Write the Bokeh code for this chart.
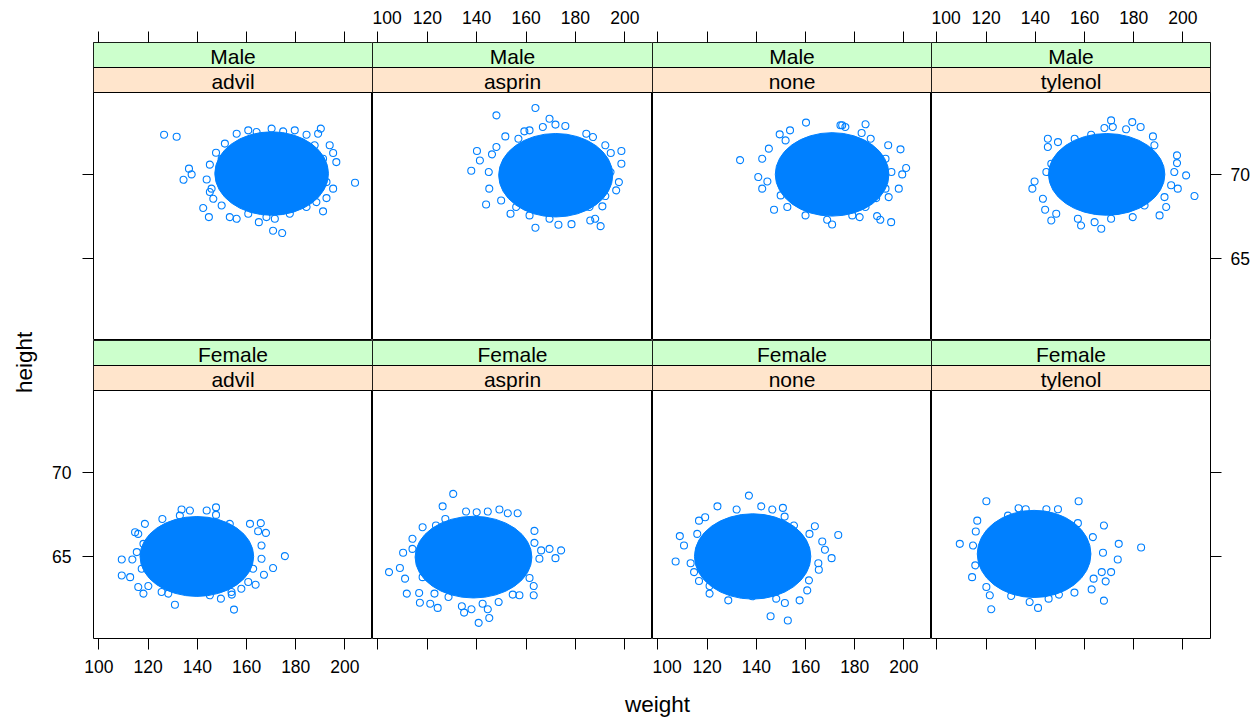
import math
from bokeh.plotting import figure
from bokeh.models import GridBox, FixedTicker, LinearAxis, Range1d, Label, Quad
from bokeh.core.properties import value
from bokeh.embed import file_html
from bokeh.resources import INLINE

# ---------------- data ----------------
sexes = ["Male", "Female"]
drugs = ["advil", "asprin", "none", "tylenol"]
weight_ticks = [100, 120, 140, 160, 180, 200]
height_ticks = [65, 70]

# dense, fully over-plotted core of each panel: centre and extent (weight, height)
core_weight = [170.2, 172.0, 170.8, 169.0, 139.8, 138.7, 138.5, 139.5]
core_height = [70.05, 69.95, 70.0, 70.0, 65.0, 64.96, 65.0, 65.15]
core_weight_span = [42, 42, 42, 43, 42, 43, 43, 42]
core_height_span = [4.6, 4.6, 4.6, 4.5, 4.4, 4.5, 4.7, 4.8]

# individually visible points around the cores
weight_male_advil = [126.5, 131.6, 136.6, 137.7, 134.4, 142.4, 144.7, 170.8, 174.5, 204.1,
                     156.0, 160.7, 164.1, 170.2, 174.9, 179.6, 184.4, 151.2, 147.6, 149.9,
                     145.1, 143.8, 145.8, 145.1, 146.5, 149.9, 153.2, 156.0, 160.7, 165.0,
                     168.1, 171.5, 177.6, 184.4, 188.4, 191.1, 192.5, 195.2, 192.5, 196.5,
                     195.2, 193.8, 191.1, 187.7, 190.2, 189.1]
height_male_advil = [72.36, 72.24, 70.34, 70.0, 69.68, 68.0, 67.46, 66.65, 66.51, 69.5,
                     72.42, 72.62, 72.52, 72.72, 72.56, 72.62, 72.36, 71.83, 71.29, 70.93,
                     70.58, 69.70, 69.15, 68.95, 68.55, 68.15, 67.46, 67.36, 67.66, 67.16,
                     67.46, 67.36, 67.66, 68.06, 68.35, 67.80, 68.59, 69.15, 69.54, 70.73,
                     71.27, 71.73, 70.93, 71.73, 72.72, 72.42]

weight_male_asprin = [163.8, 148.0, 151.6, 140.1, 141.3, 137.8, 143.8, 148.0, 146.2, 144.9,
                      145.1, 149.9, 153.7, 156.0, 161.4, 163.8, 169.5, 173.1, 178.4, 186.0,
                      188.0, 190.2, 190.9, 185.7, 192.1, 196.5, 197.6, 198.6, 198.6, 194.3,
                      192.1, 194.2, 187.1, 184.4, 175.9, 171.9, 169.5, 166.8, 161.4, 156.9,
                      159.3]
height_male_asprin = [73.95, 73.51, 72.26, 71.39, 70.83, 70.22, 68.21, 71.63, 71.19, 70.14,
                      69.15, 68.45, 67.66, 68.06, 67.56, 66.83, 67.36, 67.0, 67.04, 67.26,
                      67.36, 66.92, 68.10, 68.06, 68.71, 69.05, 69.54, 70.63, 71.39, 71.27,
                      71.73, 70.14, 72.22, 72.42, 72.88, 72.96, 73.31, 72.82, 72.62, 72.12,
                      72.56]

weight_male_none = [133.4, 145.1, 140.8, 142.4, 147.2, 149.5, 153.7, 160.2, 174.9, 184.4,
                    182.8, 186.5, 193.6, 198.6, 192.5, 200.9, 199.3, 194.9, 197.9, 192.5,
                    188.7, 193.8, 194.8, 190.4, 189.1, 182.0, 170.8, 168.8, 160.0, 152.6,
                    149.9, 144.5, 142.4, 151.9, 174.2, 176.2, 179.0, 184.4]
height_male_none = [70.85, 71.53, 69.84, 69.15, 67.90, 72.38, 72.62, 73.08, 72.92, 72.98,
                    72.46, 72.12, 71.73, 71.49, 70.93, 70.38, 70.0, 70.14, 69.15, 69.15,
                    68.59, 68.65, 67.16, 67.30, 67.52, 67.46, 67.02, 67.30, 67.56, 68.06,
                    68.75, 69.58, 70.93, 72.02, 72.92, 72.82, 67.56, 68.06]

weight_male_tylenol = [170.8, 179.4, 182.8, 176.9, 168.1, 171.5, 162.7, 156.0, 187.8, 188.4,
                       197.6, 197.6, 201.3, 204.7, 196.5, 197.9, 195.2, 192.5, 193.2, 190.5,
                       184.4, 179.6, 170.8, 166.8, 164.1, 158.6, 157.3, 146.5, 148.5, 144.0,
                       143.1, 138.8, 139.7, 144.5, 145.1, 145.1, 149.2, 153.3, 146.5]
height_male_tylenol = [73.21, 73.11, 72.82, 72.68, 72.76, 72.82, 72.36, 72.12, 72.26, 71.73,
                       71.13, 70.67, 69.94, 68.71, 70.14, 69.15, 69.35, 68.65, 68.06, 67.56,
                       68.15, 67.46, 67.36, 66.77, 67.16, 66.96, 67.36, 67.26, 67.66, 67.90,
                       68.55, 69.15, 69.58, 70.14, 71.63, 72.12, 71.92, 71.03, 70.63]

weight_female_advil = [109.3, 113.6, 109.3, 112.7, 116.0, 118.1, 130.9, 154.9, 175.6, 170.8,
                       167.1, 163.7, 161.4, 165.8, 167.9, 164.7, 166.1, 166.1, 153.2, 147.6,
                       147.6, 143.8, 137.0, 133.6, 132.9, 125.8, 118.7, 116.0, 114.7, 118.1,
                       115.4, 117.4, 120.1, 125.5, 128.2, 138.4, 145.1, 149.6, 154.0, 157.9,
                       160.7, 162.7, 153.9]
height_female_advil = [64.82, 64.82, 63.87, 63.77, 63.18, 62.79, 62.13, 61.84, 65.02, 64.31,
                       63.91, 63.32, 66.94, 66.98, 66.40, 66.50, 65.65, 64.86, 66.94, 67.92,
                       67.47, 67.73, 67.73, 67.79, 67.43, 67.23, 66.94, 66.34, 66.44, 65.75,
                       65.26, 64.27, 63.24, 62.89, 62.79, 62.89, 62.69, 62.49, 62.73, 63.08,
                       63.48, 64.27, 62.89]

weight_female_asprin = [130.5, 126.2, 104.5, 108.9, 111.0, 111.7, 116.7, 117.0, 121.2, 124.2,
                        134.0, 134.9, 137.9, 140.8, 142.4, 145.1, 144.5, 148.9, 154.6, 157.3,
                        163.1, 163.1, 161.4, 171.9, 174.2, 169.5, 166.1, 165.4, 163.4, 163.4,
                        156.6, 152.6, 149.2, 144.5, 140.0, 135.7, 127.3, 123.5, 118.1, 114.0,
                        110.2, 114.0, 118.1, 122.9, 128.6]
height_female_asprin = [68.72, 67.98, 64.07, 64.31, 63.68, 62.79, 62.83, 62.25, 62.19, 61.94,
                        62.04, 61.66, 61.86, 61.05, 62.19, 61.34, 61.86, 62.29, 62.73, 62.69,
                        62.69, 63.24, 63.72, 64.90, 65.36, 65.45, 65.36, 64.86, 65.81, 66.52,
                        67.57, 67.57, 67.79, 67.67, 67.63, 67.67, 67.23, 66.84, 66.74, 66.05,
                        65.22, 65.45, 63.77, 62.79, 62.59]

weight_female_none = [137.0, 124.2, 132.0, 142.0, 146.5, 150.8, 151.5, 116.7, 119.2, 108.9,
                      116.0, 110.6, 107.2, 113.3, 114.7, 116.7, 121.0, 121.0, 128.6, 138.4,
                      145.8, 152.8, 151.6, 148.1, 157.6, 160.7, 161.4, 165.4, 165.2, 170.6,
                      167.9, 166.8, 173.3, 163.8, 155.3, 161.6]
height_female_none = [68.62, 67.98, 67.79, 67.98, 67.79, 67.89, 67.37, 67.13, 67.33, 66.21,
                      66.34, 65.65, 64.70, 64.60, 64.07, 63.54, 63.24, 62.79, 62.39, 62.63,
                      61.44, 61.19, 62.23, 62.49, 62.39, 62.98, 63.58, 64.21, 64.60, 64.90,
                      65.40, 65.89, 66.28, 66.80, 66.84, 66.34]

weight_female_tylenol = [120.1, 157.6, 109.3, 114.7, 116.4, 115.8, 114.3, 115.6, 120.1, 122.1,
                         121.5, 130.2, 137.7, 141.1, 145.4, 149.6, 155.9, 162.9, 163.7, 167.9,
                         168.6, 170.8, 167.0, 173.5, 173.9, 167.5, 183.0, 167.9, 163.4, 157.3,
                         149.2, 144.5, 136.1, 133.2, 128.9]
height_female_tylenol = [68.28, 68.28, 65.75, 65.65, 67.13, 66.48, 63.77, 64.47, 63.18, 61.86,
                         62.69, 62.65, 62.29, 61.94, 62.49, 62.73, 62.85, 63.04, 63.68, 62.37,
                         63.52, 64.07, 64.07, 64.82, 65.75, 65.22, 65.53, 66.84, 66.15, 66.98,
                         67.81, 67.81, 67.81, 67.87, 67.43]

panel_weights = [[weight_male_advil, weight_male_asprin, weight_male_none, weight_male_tylenol],
                 [weight_female_advil, weight_female_asprin, weight_female_none, weight_female_tylenol]]
panel_heights = [[height_male_advil, height_male_asprin, height_male_none, height_male_tylenol],
                 [height_female_advil, height_female_asprin, height_female_none, height_female_tylenol]]

# ---------------- layout / style ----------------
X_START, X_END = 97.8, 211.2
Y_START, Y_PANEL_END = 60.12, 74.87
FRAME_W = [279, 280, 279, 279]
PANEL_H = 248
STRIP_H = 25
px_per_unit_y = PANEL_H / (Y_PANEL_END - Y_START)
px_per_unit_x = sum(FRAME_W) / 4 / (X_END - X_START)
Y_STRIP_MID = Y_PANEL_END + STRIP_H / px_per_unit_y
Y_END = Y_PANEL_END + 2 * STRIP_H / px_per_unit_y
FRAME_H = PANEL_H + 2 * STRIP_H

LEFT_B, RIGHT_B, TOP_B, BOTTOM_B = 55, 46, 42, 42
LABEL_W = 38
XLAB_H = 38

FONT = "Liberation Sans"
TICK_FS = "17.5px"
STRIP_FS = "21px"
LAB_FS = "22.5px"
BLUE = "#0080FF"
GREEN = "#CCFFCC"
PEACH = "#FFE5CC"
ROUND = "border_radius" in Quad.properties()


def make_axis(ticks, show_labels, standoff):
    ax = LinearAxis(ticker=FixedTicker(ticks=ticks))
    ax.axis_line_color = None
    ax.major_tick_in = 0
    ax.major_tick_out = 11
    ax.major_tick_line_color = "black"
    ax.major_tick_line_width = 1
    ax.minor_tick_line_color = None
    ax.major_label_standoff = standoff
    ax.major_label_text_font = FONT
    ax.major_label_text_font_size = TICK_FS
    ax.major_label_text_color = "black" if show_labels else None
    return ax


panels = []
for r in range(2):
    row_figs = []
    for c in range(4):
        lb = LEFT_B if c == 0 else 0
        rb = RIGHT_B if c == 3 else 0
        tb = TOP_B if r == 0 else 0
        bb = BOTTOM_B if r == 1 else 0
        p = figure(width=FRAME_W[c] + lb + rb, height=FRAME_H + tb + bb,
                   x_range=Range1d(X_START, X_END), y_range=Range1d(Y_START, Y_END),
                   output_backend="svg", toolbar_location=None,
                   x_axis_location=None, y_axis_location=None,
                   min_border_left=lb, min_border_right=rb,
                   min_border_top=tb, min_border_bottom=bb)
        p.grid.visible = False
        p.outline_line_color = "black"
        p.outline_line_width = 1
        p.background_fill_color = "white"
        p.border_fill_color = "white"

        if r == 0:
            p.add_layout(make_axis(weight_ticks, c in (1, 3), 8), "above")
        else:
            p.add_layout(make_axis(weight_ticks, c in (0, 2), 10), "below")
        if c == 0:
            p.add_layout(make_axis(height_ticks, r == 1, 11), "left")
        if c == 3:
            p.add_layout(make_axis(height_ticks, r == 0, 9), "right")

        # strips
        p.quad(left=[X_START], right=[X_END], bottom=[Y_STRIP_MID], top=[Y_END],
               fill_color=GREEN, line_color="black", line_width=1)
        p.quad(left=[X_START], right=[X_END], bottom=[Y_PANEL_END], top=[Y_STRIP_MID],
               fill_color=PEACH, line_color="black", line_width=1)
        p.text(x=[(X_START + X_END) / 2], y=[(Y_STRIP_MID + Y_END) / 2], text=[sexes[r]],
               text_font=value(FONT), text_font_size=STRIP_FS, text_color="black",
               text_align="center", text_baseline="middle", y_offset=1)
        p.text(x=[(X_START + X_END) / 2], y=[(Y_PANEL_END + Y_STRIP_MID) / 2], text=[drugs[c]],
               text_font=value(FONT), text_font_size=STRIP_FS, text_color="black",
               text_align="center", text_baseline="middle", y_offset=1)

        # over-plotted core: an ellipse, with its shoulders filled by a rounded box
        k = r * 4 + c
        ws, hs = core_weight_span[k], core_height_span[k]
        p.ellipse(x=[core_weight[k]], y=[core_height[k]],
                  width=[ws * 1.1], height=[hs * 1.08],
                  fill_color=BLUE, line_color=BLUE, line_width=1)
        if ROUND:
            bw, bh = ws * 0.92, hs * 0.86
            rad = int(round(0.45 * min(bw * px_per_unit_x, bh * px_per_unit_y)))
            p.quad(left=[core_weight[k] - bw / 2], right=[core_weight[k] + bw / 2],
                   bottom=[core_height[k] - bh / 2], top=[core_height[k] + bh / 2],
                   fill_color=BLUE, line_color=BLUE, line_width=1, border_radius=rad)
        p.scatter(x=panel_weights[r][c], y=panel_heights[r][c], marker="circle", size=7,
                  fill_color=None, line_color=BLUE, line_width=1.1)
        row_figs.append(p)
    panels.append(row_figs)

total_h = (FRAME_H + TOP_B) + (FRAME_H + BOTTOM_B)
ylab_fig = figure(width=LABEL_W, height=total_h, x_range=Range1d(0, 1), y_range=Range1d(0, 1),
                  output_backend="svg", toolbar_location=None,
                  x_axis_location=None, y_axis_location=None, min_border=0)
ylab_fig.grid.visible = False
ylab_fig.outline_line_color = None
ylab_fig.add_layout(Label(x=24 / LABEL_W, y=1 - 365 / total_h, text="height", angle=math.pi / 2,
                          text_align="center", text_baseline="middle",
                          text_font=FONT, text_font_size=LAB_FS, text_color="black"))

xlab_w = sum(FRAME_W) + LEFT_B + RIGHT_B
xlab_fig = figure(width=xlab_w, height=XLAB_H, x_range=Range1d(0, 1), y_range=Range1d(0, 1),
                  output_backend="svg", toolbar_location=None,
                  x_axis_location=None, y_axis_location=None, min_border=0)
xlab_fig.grid.visible = False
xlab_fig.outline_line_color = None
xlab_fig.add_layout(Label(x=(653 - LABEL_W) / xlab_w, y=1 - 24 / XLAB_H, text="weight",
                          text_align="center", text_baseline="middle",
                          text_font=FONT, text_font_size=LAB_FS, text_color="black"))

children = [(ylab_fig, 0, 0, 2, 1)]
for r in range(2):
    for c in range(4):
        children.append((panels[r][c], r, c + 1))
children.append((xlab_fig, 2, 1, 1, 4))
layout = GridBox(children=children, spacing=0)

open("out.html", "w").write(file_html(layout, INLINE))
